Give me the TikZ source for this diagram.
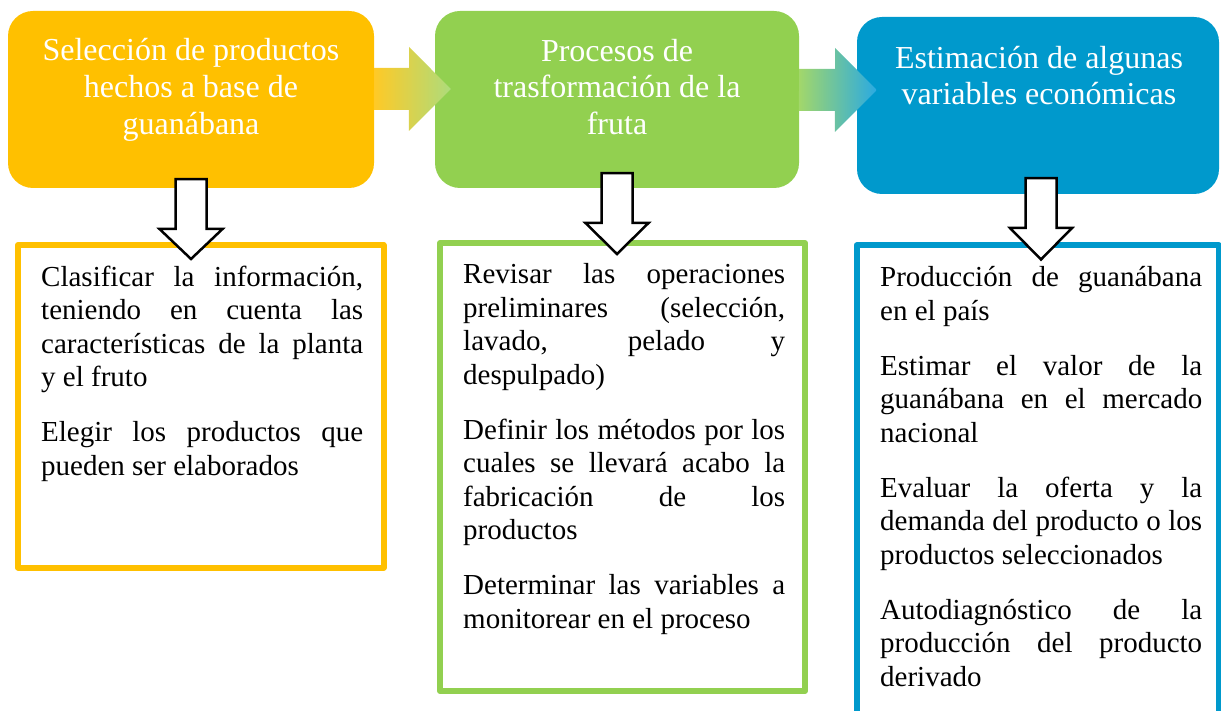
\documentclass[tikz,border=0pt]{standalone}
\usepackage{fontspec}
\setmainfont{Liberation Serif}
\usetikzlibrary{calc}
\definecolor{ambar}{HTML}{FFC000}
\definecolor{verde}{HTML}{92D050}
\definecolor{azul}{HTML}{0099CC}
\definecolor{celeste}{HTML}{2AAAE2}
\hyphenpenalty=10000
\tolerance=10000
\hbadness=10000

\begin{document}
\begin{tikzpicture}[x=1pt, y=-1pt,
    encabezado/.style={rounded corners=25pt, minimum height=177pt, inner sep=0pt},
    titulo/.style={text=white, align=center, font=\fontsize{32}{36.8}\selectfont},
    caja/.style={draw, line width=6pt, line join=round, anchor=north west, inner sep=0pt, outer sep=0pt},
    cuerpo/.style={anchor=base west, inner sep=0pt, text width=322pt, align=justify,
        font=\fontsize{29}{33.5}\selectfont, execute at begin node={\setlength{\parskip}{21.5pt}}},
    flecha/.style={draw=black, fill=white, line width=2.5pt, line join=miter}]

    \useasboundingbox (0,0) rectangle (1221,711);

    % Headers
    \node[encabezado, fill=ambar, minimum width=366pt] (hsel) at (191,99.5) {};
    \node[encabezado, fill=verde, minimum width=364pt] (hpro) at (617,99.5) {};
    \node[encabezado, fill=azul, minimum width=362pt] (hest) at (1038,105.5) {};
    \node[titulo] (lsel) at (191,90) {Selección de productos\\hechos a base de\\guanábana};
    \node[titulo] (lpro) at (617,87) {Procesos de\\trasformación de la\\fruta};
    \node[titulo] (lest) at (1039,75.5) {Estimación de algunas\\variables económicas};

    % Shaded arrows between the headers
    \shade[left color=ambar!85!white, middle color=gray!14, right color=verde!75!white]
        ($(hsel.east)+(0,-31.5)$) -- ++(35,0) -- ++(0,-21) -- ($(hpro.west)+(16,-10.5)$)
        -- ++(-42,42) -- ++(0,-21) -- ++(-35,0) -- cycle;
    \shade[left color=verde!85!white, middle color=gray!14, right color=celeste]
        ($(hpro.east)+(0,-30.5)$) -- ++(36,0) -- ++(0,-21) -- ($(hest.west)+(20,-15.5)$)
        -- ++(-42,42) -- ++(0,-21) -- ++(-36,0) -- cycle;

    % First column: selection
    \node[caja, draw=ambar, minimum width=365.5pt, minimum height=322.5pt] (bsel) at (18,245) {};
    \node[cuerpo] (tsel) at (41,286.5) {Clasificar la información,\linebreak
        teniendo en cuenta las\linebreak características de la planta\linebreak y el fruto\par
        Elegir los productos que\linebreak pueden ser elaborados};

    % Second column: processes
    \node[caja, draw=verde, minimum width=365pt, minimum height=448pt] (bpro) at (440,243) {};
    \node[cuerpo] (tpro) at (463,284) {Revisar las operaciones\linebreak
        preliminares (selección,\linebreak lavado, pelado y\linebreak despulpado)\par
        Definir los métodos por los\linebreak cuales se llevará acabo la\linebreak
        fabricación de los\linebreak productos\par
        Determinar las variables a\linebreak monitorear en el proceso};

    % Third column: estimation
    \node[caja, draw=azul, minimum width=362.5pt, minimum height=515pt] (best) at (856.5,245.5) {};
    \node[cuerpo] (test) at (880,287) {Producción de guanábana\linebreak en el país\par
        Estimar el valor de la\linebreak guanábana en el mercado\linebreak nacional\par
        Evaluar la oferta y la\linebreak demanda del producto o los\linebreak productos seleccionados\par
        Autodiagnóstico de la\linebreak producción del producto\linebreak derivado};

    % Down arrows
    \draw[flecha] ($(hsel.south)+(-15.5,-9)$) -- ++(31,0) -- ($(hsel.south |- bsel.north)+(15.5,-16)$)
        -- ++(16,0) -- ($(hsel.south |- bsel.north)+(0,14)$) -- ++(-31.5,-30) -- ++(16,0) -- cycle;
    \draw[flecha] ($(hpro.south)+(-15.5,-15)$) -- ++(31,0) -- ($(hpro.south |- bpro.north)+(15.5,-20)$)
        -- ++(16,0) -- ($(hpro.south |- bpro.north)+(0,11)$) -- ++(-31.5,-31) -- ++(16,0) -- cycle;
    \draw[flecha] ($(hest.south)+(-12.5,-16)$) -- ++(31,0) -- ($(hest.south |- best.north)+(18.5,-17.5)$)
        -- ++(15.5,0) -- ($(hest.south |- best.north)+(3,14)$) -- ++(-31,-31.5) -- ++(15.5,0) -- cycle;

\end{tikzpicture}
\end{document}
